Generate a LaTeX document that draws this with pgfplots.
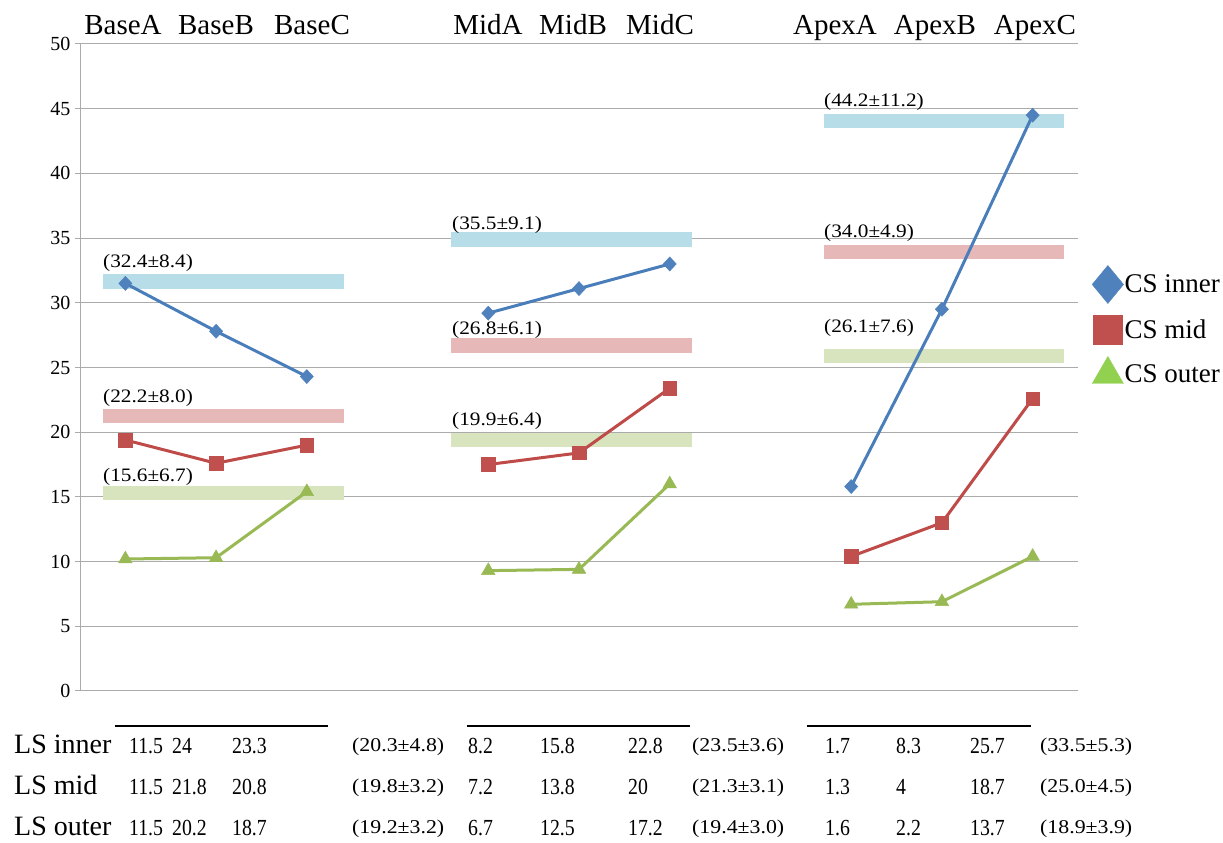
\documentclass[border=0pt]{standalone}
\usepackage{pgfplots}
\pgfplotsset{compat=1.18}
\usepackage{fontspec}
\setmainfont{Liberation Serif}
\newfontfamily\stretchfont[FakeStretch=1.12]{Liberation Serif}
\newfontfamily\narrowfont[FakeStretch=0.86]{Liberation Serif}
\definecolor{cblue}{HTML}{4A7EBB}
\definecolor{cred}{HTML}{BE4B48}
\definecolor{cgreen}{HTML}{98B954}
\definecolor{bblue}{HTML}{B7DDE8}
\definecolor{bred}{HTML}{E6B9B8}
\definecolor{bgreen}{HTML}{D7E4BD}
\definecolor{lgreen}{HTML}{92D050}
\definecolor{lblue}{HTML}{4F81BD}
\definecolor{lred}{HTML}{C0504D}
\definecolor{gridc}{HTML}{ABABAB}
\newcommand\T[3]{\node[anchor=base west,inner sep=0pt] at (#1bp,#2bp) {#3};}
\newcommand\C[2]{\node[anchor=base,inner sep=0pt] at (#1bp,808bp) {#2};}
\begin{document}
\begin{tikzpicture}
\path[use as bounding box] (0bp,0bp) rectangle (1223bp,843bp);
\begin{axis}[
  at={(80bp,152bp)}, anchor=south west,
  scale only axis, width=998bp, height=647bp,
  xmin=-0.5, xmax=10.5, ymin=0, ymax=50,
  xtick=\empty, ytick={0,5,...,50},
  axis lines=left, axis line style={-, draw=gridc, line width=1bp},
  ymajorgrids, grid style={draw=gridc, line width=1bp},
  tick style={draw=gridc, line width=1bp},
  major tick length=5bp, tick align=outside,
  yticklabel style={font=\fontsize{20bp}{22bp}\selectfont, xshift=-1bp},
  /pgf/number format/assume math mode=true,
  clip=false,
  legend style={draw=none, fill=none, at={(1.014,0.658)}, anchor=north west,
    inner sep=0pt, row sep=12bp, font=\fontsize{27bp}{29bp}\selectfont,
    nodes={inner sep=1bp}},
  legend cell align=left,
  legend image code/.code={\draw[#1] plot coordinates {(0bp,0bp)};},
]
\addlegendimage{only marks, mark=diamond*, mark size=19bp, mark options={xscale=1.1}, color=lblue}
\addlegendentry{CS inner}
\addlegendimage{only marks, mark=square*, mark size=14.5bp, color=lred}
\addlegendentry{CS mid}
\addlegendimage{only marks, mark=triangle*, mark size=18bp, color=lgreen}
\addlegendentry{CS outer}

% bands
\addplot[bblue, line width=14.5bp, forget plot] coordinates {(-0.25,31.65) (2.41,31.65)};
\addplot[bblue, line width=14.5bp, forget plot] coordinates {(3.59,34.89) (6.25,34.89)};
\addplot[bblue, line width=14.5bp, forget plot] coordinates {(7.70,44.05) (10.35,44.05)};
\addplot[bred, line width=14.5bp, forget plot] coordinates {(-0.25,21.25) (2.41,21.25)};
\addplot[bred, line width=14.5bp, forget plot] coordinates {(3.59,26.70) (6.25,26.70)};
\addplot[bred, line width=14.5bp, forget plot] coordinates {(7.70,33.93) (10.35,33.93)};
\addplot[bgreen, line width=14.5bp, forget plot] coordinates {(-0.25,15.30) (2.41,15.30)};
\addplot[bgreen, line width=14.5bp, forget plot] coordinates {(3.59,19.40) (6.25,19.40)};
\addplot[bgreen, line width=14.5bp, forget plot] coordinates {(7.70,25.89) (10.35,25.89)};

\pgfplotsset{
  inner/.style={cblue, line width=3bp, mark=diamond*, mark size=7bp, mark options={solid, xscale=1.25, fill=lblue, draw=lblue, line width=0.5bp}, forget plot},
  mid/.style={cred, line width=3bp, mark=square*, mark size=6.8bp, mark options={solid, fill=lred, draw=lred, line width=0.5bp}, forget plot},
  outer/.style={cgreen, line width=3bp, mark=triangle*, mark size=7.8bp, mark options={solid, fill=cgreen, draw=cgreen, line width=0.5bp}, forget plot},
}
\addplot[inner] coordinates {(0,31.5) (1,27.8) (2,24.3)};
\addplot[inner] coordinates {(4,29.2) (5,31.1) (6,33.0)};
\addplot[inner] coordinates {(8,15.8) (9,29.5) (10,44.5)};
\addplot[mid] coordinates {(0,19.4) (1,17.6) (2,19.0)};
\addplot[mid] coordinates {(4,17.5) (5,18.4) (6,23.4)};
\addplot[mid] coordinates {(8,10.4) (9,13.0) (10,22.6)};
\addplot[outer] coordinates {(0,10.2) (1,10.3) (2,15.4)};
\addplot[outer] coordinates {(4,9.3) (5,9.4) (6,16.0)};
\addplot[outer] coordinates {(8,6.7) (9,6.9) (10,10.4)};
\end{axis}

% category labels
\begingroup\fontsize{29bp}{31bp}\selectfont
\C{123}{BaseA}\C{216}{BaseB}\C{312}{BaseC}
\C{488}{MidA}\C{573}{MidB}\C{660}{MidC}
\C{835}{ApexA}\C{935}{ApexB}\C{1035}{ApexC}
\endgroup

% band labels
\begingroup\stretchfont\fontsize{19bp}{21bp}\selectfont
\T{103}{575}{(32.4±8.4)}
\T{103}{440}{(22.2±8.0)}
\T{103}{361}{(15.6±6.7)}
\T{452}{613}{(35.5±9.1)}
\T{452}{508}{(26.8±6.1)}
\T{452}{417}{(19.9±6.4)}
\T{824}{736}{(44.2±11.2)}
\T{824}{605}{(34.0±4.9)}
\T{824}{510}{(26.1±7.6)}
\endgroup

% table lines
\draw[black, line width=1.5bp] (115bp,117bp) -- (328bp,117bp);
\draw[black, line width=1.5bp] (467bp,117bp) -- (690bp,117bp);
\draw[black, line width=1.5bp] (807bp,117bp) -- (1031bp,117bp);

% table
\begingroup\fontsize{28bp}{30bp}\selectfont
\T{14}{89}{LS inner}
\T{14}{48}{LS mid}
\T{14}{8}{LS outer}
\endgroup
\begingroup\narrowfont\fontsize{23bp}{25bp}\selectfont
\T{129}{89}{11.5}\T{172}{89}{24}\T{232}{89}{23.3}
\T{468}{89}{8.2}\T{540}{89}{15.8}\T{628}{89}{22.8}
\T{825}{89}{1.7}\T{896}{89}{8.3}\T{970}{89}{25.7}
\T{129}{48}{11.5}\T{172}{48}{21.8}\T{232}{48}{20.8}
\T{468}{48}{7.2}\T{540}{48}{13.8}\T{628}{48}{20}
\T{825}{48}{1.3}\T{896}{48}{4}\T{970}{48}{18.7}
\T{129}{8}{11.5}\T{172}{8}{20.2}\T{232}{8}{18.7}
\T{468}{8}{6.7}\T{540}{8}{12.5}\T{628}{8}{17.2}
\T{825}{8}{1.6}\T{896}{8}{2.2}\T{970}{8}{13.7}
\endgroup
\begingroup\stretchfont\fontsize{19.5bp}{21bp}\selectfont
\T{352}{91}{(20.3±4.8)}\T{692}{91}{(23.5±3.6)}\T{1040}{91}{(33.5±5.3)}
\T{352}{50}{(19.8±3.2)}\T{692}{50}{(21.3±3.1)}\T{1040}{50}{(25.0±4.5)}
\T{352}{10}{(19.2±3.2)}\T{692}{10}{(19.4±3.0)}\T{1040}{10}{(18.9±3.9)}
\endgroup
\end{tikzpicture}
\end{document}
